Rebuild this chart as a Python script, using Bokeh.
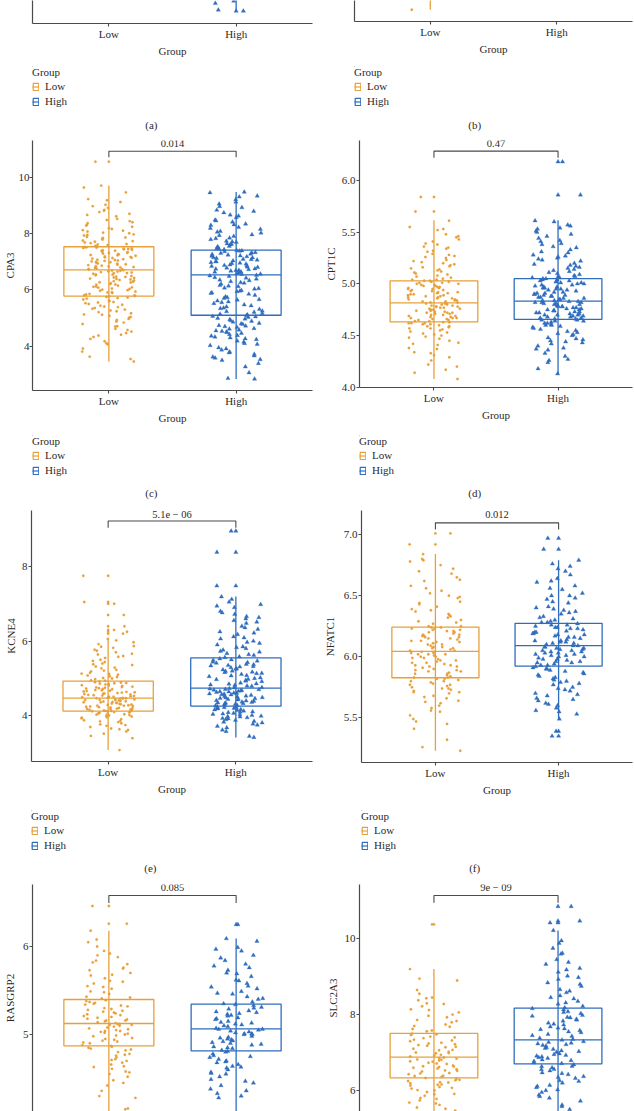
from bokeh.plotting import figure
from bokeh.models import FactorRange, Range1d, FixedTicker, Legend, LegendItem, ColumnDataSource, PrintfTickFormatter
from bokeh.transform import jitter, dodge
from bokeh.layouts import column, row
from bokeh.embed import file_html
from bokeh.resources import INLINE
from bokeh.core.properties import value

GROUPS = ["Low", "High"]
COLORS = ["#E8A03A", "#2F6DBE"]
MARKERS = ["circle", "triangle"]
MSIZE = [2.4, 4.3]
FONT = "Liberation Serif"
TXT = "#2a2a2a"
AXC = "#4a4a4a"

# ---------------- data ----------------
# (a) partial panel: only its lower edge is visible (boxes lie above the visible part)
a_low = [2.62, 2.80, 3.10]
a_high = [2.17, 2.195, 2.34, 2.39, 2.55]
a_q1 = None; a_med = None; a_q3 = None; a_wlo = [2.60, 2.18]; a_whi = [4.20, 4.00]

# (b) partial panel
b_low = [2.18, 2.52, 2.75]
b_high = [2.66, 2.90]
b_q1 = None; b_med = None; b_q3 = None; b_wlo = [2.18, 2.60]; b_whi = [4.10, 4.20]

# (c) CPA3
cpa3_low = [3.46, 3.63, 3.81, 4.07, 4.11, 4.33, 4.38, 4.41, 4.47, 4.62, 4.70, 4.71, 4.88, 4.93, 4.97, 5.04,
            5.12, 5.13, 5.21, 5.27, 5.30, 5.36, 5.41, 5.44, 5.50, 5.53, 5.57, 5.60, 5.66, 5.69, 5.73, 5.77,
            5.79, 5.81, 5.84, 5.89, 5.91, 5.92, 5.97, 6.01, 6.03, 6.08, 6.09, 6.12, 6.18, 6.19, 6.24, 6.26,
            6.27, 6.31, 6.35, 6.37, 6.40, 6.44, 6.46, 6.47, 6.52, 6.54, 6.57, 6.60, 6.63, 6.66, 6.68, 6.70,
            6.73, 6.74, 6.78, 6.81, 6.83, 6.86, 6.88, 6.91, 6.94, 6.96, 6.99, 7.01, 7.04, 7.06, 7.09, 7.11,
            7.14, 7.17, 7.19, 7.23, 7.24, 7.27, 7.31, 7.32, 7.36, 7.39, 7.41, 7.44, 7.46, 7.47, 7.49, 7.51,
            7.52, 7.56, 7.59, 7.63, 7.68, 7.71, 7.73, 7.79, 7.84, 7.88, 7.93, 7.97, 8.03, 8.07, 8.12, 8.19,
            8.24, 8.31, 8.37, 8.44, 8.52, 8.61, 8.70, 8.76, 8.84, 8.91, 9.02, 9.18, 9.22, 9.46, 9.63, 9.70, 10.55]
cpa3_low_more = [3.55, 3.92, 4.18, 4.26, 4.52, 4.58, 4.79, 4.84, 5.01, 5.08, 5.17, 5.24, 5.33, 5.39, 5.47, 5.55,
                 5.62, 5.71, 5.75, 5.80, 5.86, 5.94, 5.99, 6.05, 6.11, 6.15, 6.21, 6.29, 6.33, 6.39, 6.42, 6.49,
                 6.55, 6.59, 6.62, 6.65, 6.69, 6.72, 6.76, 6.80, 6.84, 6.89, 6.93, 6.98, 7.03, 7.07, 7.13, 7.16,
                 7.21, 7.26, 7.29, 7.34, 7.38, 7.42, 7.45, 7.50, 7.54, 7.61, 7.66, 7.75, 7.81, 7.86, 7.95, 8.01,
                 8.10, 8.16, 8.28, 8.40, 8.48, 8.66, 8.81, 8.97, 9.12]
cpa3_high = [2.84, 2.86, 3.27, 3.50, 3.53, 3.58, 3.66, 3.72, 3.80, 3.87, 3.91, 4.03, 4.10, 4.19, 4.24, 4.27,
             4.33, 4.38, 4.42, 4.46, 4.51, 4.55, 4.58, 4.63, 4.67, 4.70, 4.74, 4.78, 4.82, 4.86, 4.91, 4.95,
             4.99, 5.03, 5.06, 5.09, 5.12, 5.16, 5.21, 5.25, 5.31, 5.36, 5.40, 5.47, 5.52, 5.58, 5.61, 5.66,
             5.70, 5.76, 5.81, 5.85, 5.90, 5.94, 5.98, 6.03, 6.07, 6.12, 6.16, 6.21, 6.26, 6.30, 6.35, 6.39,
             6.44, 6.48, 6.52, 6.55, 6.58, 6.61, 6.64, 6.67, 6.70, 6.72, 6.75, 6.78, 6.81, 6.84, 6.86, 6.89,
             6.92, 6.95, 6.97, 7.00, 7.03, 7.06, 7.09, 7.12, 7.15, 7.18, 7.21, 7.24, 7.27, 7.30, 7.33, 7.36,
             7.38, 7.40, 7.43, 7.47, 7.51, 7.55, 7.60, 7.64, 7.69, 7.73, 7.79, 7.84, 7.90, 7.96, 8.02, 8.08,
             8.15, 8.22, 8.29, 8.34, 8.41, 8.48, 8.57, 8.66, 8.74, 8.83, 8.92, 9.05, 9.21, 9.33, 9.45, 9.47]
cpa3_high_more = [3.06, 3.39, 3.62, 3.77, 3.95, 4.07, 4.15, 4.30, 4.36, 4.49, 4.53, 4.61, 4.72, 4.80, 4.89, 4.97,
                  5.05, 5.14, 5.23, 5.34, 5.44, 5.55, 5.64, 5.73, 5.88, 5.96, 6.05, 6.14, 6.24, 6.33, 6.42, 6.50,
                  6.56, 6.63, 6.69, 6.74, 6.80, 6.87, 6.94, 7.01, 7.08, 7.14, 7.20, 7.26, 7.32, 7.39, 7.45, 7.53,
                  7.62, 7.71, 7.82, 7.93, 8.05, 8.19, 8.31, 8.45, 8.62, 8.79, 8.96, 9.12, 9.30]
cpa3_q1 = [5.78, 5.10]; cpa3_med = [6.71, 6.53]; cpa3_q3 = [7.53, 7.41]; cpa3_wlo = [3.46, 2.84]; cpa3_whi = [9.70, 9.47]

# (d) CPT1C
cpt1c_low = [4.08, 4.14, 4.17, 4.22, 4.26, 4.29, 4.31, 4.34, 4.37, 4.38, 4.41, 4.43, 4.45, 4.47, 4.49, 4.50,
             4.52, 4.53, 4.54, 4.56, 4.57, 4.59, 4.59, 4.60, 4.61, 4.62, 4.62, 4.63, 4.64, 4.64, 4.65, 4.66,
             4.67, 4.67, 4.68, 4.69, 4.70, 4.70, 4.71, 4.72, 4.72, 4.73, 4.74, 4.75, 4.75, 4.76, 4.77, 4.78,
             4.78, 4.79, 4.80, 4.80, 4.81, 4.81, 4.82, 4.83, 4.83, 4.84, 4.85, 4.86, 4.87, 4.87, 4.88, 4.89,
             4.90, 4.91, 4.92, 4.92, 4.93, 4.94, 4.95, 4.96, 4.96, 4.97, 4.98, 4.99, 5.00, 5.01, 5.01, 5.02,
             5.03, 5.03, 5.04, 5.05, 5.07, 5.08, 5.10, 5.11, 5.13, 5.15, 5.16, 5.18, 5.20, 5.22, 5.23, 5.25,
             5.27, 5.29, 5.31, 5.34, 5.36, 5.38, 5.41, 5.45, 5.48, 5.52, 5.55, 5.61, 5.70, 5.84]
cpt1c_low_more = [4.20, 4.33, 4.42, 4.48, 4.55, 4.58, 4.61, 4.63, 4.65, 4.68, 4.71, 4.74, 4.76, 4.79, 4.82, 4.84,
                  4.86, 4.89, 4.91, 4.94, 4.97, 4.99, 5.02, 5.06, 5.09, 5.12, 5.17, 5.21, 5.26, 5.32, 5.39, 5.46,
                  5.53, 4.69, 4.77, 4.88, 4.95, 5.00, 4.73, 4.66, 4.51, 4.57, 4.62, 4.67, 4.72, 4.78, 4.81, 4.85,
                  4.90, 4.93, 4.98, 5.04, 5.14, 5.19, 5.28, 5.35, 5.43]
cpt1c_high = [4.13, 4.18, 4.26, 4.27, 4.30, 4.33, 4.36, 4.38, 4.40, 4.42, 4.43, 4.45, 4.47, 4.48, 4.50, 4.52,
              4.53, 4.55, 4.56, 4.57, 4.59, 4.60, 4.61, 4.62, 4.63, 4.64, 4.64, 4.65, 4.65, 4.66, 4.66, 4.67,
              4.68, 4.68, 4.69, 4.70, 4.70, 4.71, 4.72, 4.72, 4.73, 4.74, 4.74, 4.75, 4.76, 4.76, 4.77, 4.78,
              4.78, 4.79, 4.80, 4.80, 4.81, 4.82, 4.82, 4.83, 4.83, 4.84, 4.85, 4.85, 4.86, 4.87, 4.88, 4.89,
              4.89, 4.90, 4.91, 4.92, 4.93, 4.94, 4.94, 4.95, 4.96, 4.97, 4.98, 4.99, 5.00, 5.00, 5.01, 5.02,
              5.03, 5.03, 5.04, 5.05, 5.05, 5.06, 5.07, 5.08, 5.10, 5.11, 5.13, 5.15, 5.17, 5.18, 5.20, 5.22,
              5.24, 5.26, 5.28, 5.30, 5.33, 5.35, 5.38, 5.41, 5.44, 5.46, 5.50, 5.53, 5.56, 5.57, 5.60, 5.61,
              5.86, 6.18]
cpt1c_high_more = [4.24, 4.37, 4.44, 4.51, 4.58, 4.62, 4.67, 4.69, 4.71, 4.73, 4.75, 4.77, 4.79, 4.81, 4.84, 4.86,
                   4.88, 4.90, 4.92, 4.95, 4.97, 4.99, 5.02, 5.04, 5.07, 5.09, 5.12, 5.16, 5.19, 5.23, 5.27, 5.31,
                   5.36, 5.42, 5.48, 5.54, 4.46, 4.54, 4.60, 4.70, 4.74, 4.78, 4.82, 4.87, 4.91, 4.96, 5.01, 5.06,
                   5.14, 5.25, 5.39, 5.51]
cpt1c_q1 = [4.633, 4.656]; cpt1c_med = [4.817, 4.833]; cpt1c_q3 = [5.029, 5.051]; cpt1c_wlo = [4.08, 4.13]; cpt1c_whi = [5.614, 5.614]

# (e) KCNE4
kcne4_low = [3.08, 3.40, 3.52, 3.58, 3.62, 3.66, 3.70, 3.73, 3.77, 3.80, 3.83, 3.86, 3.88, 3.91, 3.93, 3.96,
             3.98, 4.00, 4.02, 4.04, 4.06, 4.08, 4.10, 4.11, 4.12, 4.12, 4.13, 4.14, 4.15, 4.16, 4.18, 4.19,
             4.20, 4.22, 4.23, 4.24, 4.26, 4.27, 4.28, 4.30, 4.31, 4.33, 4.34, 4.36, 4.37, 4.38, 4.40, 4.41,
             4.42, 4.44, 4.45, 4.46, 4.47, 4.47, 4.48, 4.50, 4.51, 4.53, 4.54, 4.56, 4.57, 4.59, 4.61, 4.62,
             4.64, 4.66, 4.67, 4.69, 4.71, 4.72, 4.74, 4.76, 4.78, 4.80, 4.82, 4.84, 4.86, 4.88, 4.90, 4.92,
             4.95, 4.98, 5.01, 5.04, 5.08, 5.10, 5.12, 5.15, 5.19, 5.23, 5.27, 5.32, 5.36, 5.40, 5.44, 5.50,
             5.55, 5.60, 5.64, 5.70, 5.77, 5.82, 5.87, 5.92, 6.02, 6.06, 6.20, 6.25, 6.30, 6.40, 6.70, 7.00,
             7.05, 7.75]
kcne4_low_more = [3.46, 3.64, 3.75, 3.85, 3.95, 4.01, 4.05, 4.09, 4.13, 4.17, 4.21, 4.25, 4.29, 4.32, 4.35, 4.39,
                  4.43, 4.46, 4.49, 4.52, 4.55, 4.58, 4.60, 4.63, 4.68, 4.73, 4.77, 4.81, 4.85, 4.89, 4.94, 5.00,
                  5.06, 5.13, 5.21, 5.29, 5.38, 5.47, 5.58, 5.66, 5.74, 5.85, 5.97, 4.03, 4.18, 4.27, 4.36, 4.42,
                  4.51, 4.65, 4.75, 4.87]
kcne4_high = [3.42, 3.45, 3.62, 3.68, 3.72, 3.78, 3.81, 3.85, 3.88, 3.90, 3.93, 3.95, 3.97, 3.99, 4.01, 4.03,
              4.05, 4.07, 4.09, 4.11, 4.13, 4.15, 4.17, 4.19, 4.21, 4.23, 4.25, 4.27, 4.29, 4.31, 4.33, 4.35,
              4.37, 4.39, 4.41, 4.43, 4.45, 4.47, 4.49, 4.51, 4.53, 4.55, 4.57, 4.59, 4.61, 4.63, 4.65, 4.67,
              4.69, 4.70, 4.72, 4.73, 4.76, 4.79, 4.82, 4.85, 4.88, 4.92, 4.95, 4.98, 5.02, 5.05, 5.08, 5.11,
              5.14, 5.17, 5.20, 5.23, 5.26, 5.29, 5.32, 5.35, 5.38, 5.41, 5.44, 5.47, 5.50, 5.53, 5.58, 5.62,
              5.67, 5.71, 5.76, 5.80, 5.85, 5.90, 5.94, 6.00, 6.06, 6.12, 6.18, 6.25, 6.32, 6.40, 6.48, 6.55,
              6.60, 6.66, 6.72, 6.80, 6.90, 6.98, 7.05, 7.12, 7.19, 7.48, 8.38, 8.95]
kcne4_high_more = [3.58, 3.75, 3.83, 3.92, 3.98, 4.04, 4.10, 4.16, 4.22, 4.28, 4.32, 4.36, 4.40, 4.44, 4.48, 4.52,
                   4.56, 4.60, 4.64, 4.68, 4.71, 4.75, 4.80, 4.86, 4.93, 5.00, 5.07, 5.13, 5.19, 5.25, 5.31, 5.37,
                   5.43, 5.49, 5.56, 5.64, 5.73, 5.83, 5.97, 6.09, 6.22, 6.36, 6.51, 6.63, 6.76, 6.94, 4.20, 4.34,
                   4.46, 4.58, 4.66, 4.83, 4.97, 5.16, 5.34]
kcne4_q1 = [4.125, 4.26]; kcne4_med = [4.47, 4.74]; kcne4_q3 = [4.93, 5.55]; kcne4_wlo = [3.08, 3.42]; kcne4_whi = [6.06, 7.195]

# (f) NFATC1
nfatc1_low = [5.23, 5.26, 5.41, 5.47, 5.49, 5.55, 5.56, 5.60, 5.62, 5.64, 5.66, 5.68, 5.70, 5.71, 5.72, 5.73,
              5.74, 5.75, 5.76, 5.77, 5.78, 5.79, 5.80, 5.81, 5.82, 5.82, 5.83, 5.84, 5.85, 5.86, 5.87, 5.88,
              5.89, 5.90, 5.91, 5.92, 5.93, 5.94, 5.95, 5.96, 5.97, 5.98, 5.99, 6.00, 6.01, 6.02, 6.02, 6.03,
              6.04, 6.04, 6.05, 6.06, 6.07, 6.08, 6.09, 6.10, 6.11, 6.12, 6.13, 6.14, 6.15, 6.16, 6.16, 6.17,
              6.18, 6.19, 6.20, 6.21, 6.21, 6.22, 6.23, 6.24, 6.24, 6.25, 6.27, 6.28, 6.30, 6.32, 6.33, 6.35,
              6.37, 6.39, 6.41, 6.43, 6.45, 6.48, 6.50, 6.52, 6.54, 6.58, 6.62, 6.65, 6.68, 6.72, 6.75, 6.78,
              6.80, 6.84, 6.92, 7.01]
nfatc1_low_more = [5.32, 5.45, 5.52, 5.58, 5.63, 5.67, 5.71, 5.74, 5.77, 5.80, 5.83, 5.86, 5.89, 5.92, 5.95, 5.97,
                   6.00, 6.02, 6.05, 6.07, 6.10, 6.12, 6.15, 6.17, 6.20, 6.22, 6.25, 6.29, 6.34, 6.38, 6.44, 6.49,
                   6.56, 6.63, 6.70, 6.79, 5.88, 5.93, 5.99, 6.03, 6.08, 6.13, 6.18, 6.23]
nfatc1_high = [5.35, 5.39, 5.49, 5.53, 5.56, 5.58, 5.61, 5.62, 5.64, 5.66, 5.68, 5.70, 5.72, 5.74, 5.75, 5.77,
               5.79, 5.80, 5.82, 5.83, 5.85, 5.86, 5.88, 5.89, 5.90, 5.91, 5.92, 5.93, 5.94, 5.95, 5.96, 5.97,
               5.98, 5.99, 6.00, 6.01, 6.02, 6.03, 6.03, 6.04, 6.05, 6.06, 6.06, 6.07, 6.08, 6.08, 6.09, 6.10,
               6.11, 6.12, 6.13, 6.14, 6.15, 6.16, 6.17, 6.18, 6.19, 6.20, 6.21, 6.22, 6.23, 6.24, 6.25, 6.26,
               6.27, 6.28, 6.29, 6.31, 6.33, 6.35, 6.37, 6.39, 6.41, 6.44, 6.47, 6.50, 6.52, 6.55, 6.58, 6.61,
               6.64, 6.67, 6.72, 6.76, 6.79, 6.88, 6.97]
nfatc1_high_more = [5.55, 5.60, 5.65, 5.69, 5.73, 5.78, 5.81, 5.84, 5.87, 5.90, 5.93, 5.95, 5.98, 6.00, 6.02, 6.04,
                    6.07, 6.09, 6.11, 6.13, 6.16, 6.18, 6.20, 6.23, 6.26, 6.28, 6.32, 6.36, 6.40, 6.45, 6.50, 6.56,
                    6.62, 6.70, 6.74, 5.96, 6.01, 6.05, 6.12, 6.19, 6.24, 6.30, 6.38, 6.48]
nfatc1_q1 = [5.828, 5.923]; nfatc1_med = [6.044, 6.09]; nfatc1_q3 = [6.243, 6.273]; nfatc1_wlo = [5.23, 5.49]; nfatc1_whi = [6.84, 6.79]

# (g) RASGRP2 (lower part cut off)
rasgrp2_low = [3.95, 4.02, 4.08, 4.15, 4.16, 4.28, 4.30, 4.36, 4.42, 4.48, 4.52, 4.55, 4.58, 4.61, 4.63, 4.66,
               4.68, 4.70, 4.72, 4.74, 4.76, 4.78, 4.80, 4.82, 4.84, 4.85, 4.86, 4.88, 4.90, 4.92, 4.94, 4.96,
               4.98, 5.00, 5.01, 5.03, 5.04, 5.05, 5.06, 5.08, 5.09, 5.10, 5.11, 5.12, 5.12, 5.13, 5.14, 5.16,
               5.17, 5.19, 5.20, 5.22, 5.23, 5.25, 5.27, 5.28, 5.30, 5.32, 5.34, 5.35, 5.37, 5.39, 5.41, 5.43,
               5.46, 5.49, 5.52, 5.55, 5.58, 5.61, 5.64, 5.67, 5.70, 5.73, 5.76, 5.80, 5.84, 5.88, 5.92, 5.95,
               6.05, 6.08, 6.18, 6.26, 6.46]
rasgrp2_low_more = [4.45, 4.57, 4.64, 4.71, 4.77, 4.83, 4.87, 4.91, 4.95, 4.99, 5.02, 5.07, 5.11, 5.15, 5.18, 5.21,
                    5.24, 5.29, 5.33, 5.38, 5.42, 5.48, 5.54, 5.60, 5.68, 5.75, 5.82, 5.90, 6.00, 4.93, 5.04, 5.16,
                    5.26, 5.36]
rasgrp2_high = [3.90, 4.00, 4.10, 4.28, 4.30, 4.33, 4.38, 4.42, 4.45, 4.49, 4.52, 4.55, 4.57, 4.60, 4.62, 4.64,
                4.66, 4.68, 4.70, 4.72, 4.74, 4.76, 4.78, 4.80, 4.82, 4.84, 4.86, 4.88, 4.90, 4.92, 4.94, 4.95,
                4.97, 4.98, 5.00, 5.01, 5.02, 5.04, 5.05, 5.06, 5.07, 5.09, 5.11, 5.13, 5.15, 5.17, 5.19, 5.21,
                5.23, 5.25, 5.27, 5.29, 5.31, 5.33, 5.34, 5.37, 5.40, 5.43, 5.46, 5.49, 5.52, 5.55, 5.58, 5.62,
                5.66, 5.70, 5.73, 5.76, 5.80, 5.84, 5.90, 5.95, 5.99, 6.06, 6.09, 6.25]
rasgrp2_high_more = [4.36, 4.47, 4.56, 4.63, 4.69, 4.75, 4.81, 4.85, 4.89, 4.93, 4.96, 5.00, 5.03, 5.06, 5.10, 5.14,
                     5.18, 5.22, 5.26, 5.30, 5.35, 5.41, 5.47, 5.54, 5.61, 5.69, 5.78, 5.87, 5.97, 4.91, 5.01, 5.12,
                     5.24]
rasgrp2_q1 = [4.871, 4.814]; rasgrp2_med = [5.125, 5.064]; rasgrp2_q3 = [5.398, 5.345]; rasgrp2_wlo = [3.95, 3.90]; rasgrp2_whi = [6.18, 6.09]

# (h) SLC2A3 (lower part cut off)
slc2a3_low = [5.00, 5.20, 5.35, 5.47, 5.55, 5.62, 5.68, 5.74, 5.80, 5.86, 5.91, 5.96, 6.01, 6.05, 6.09, 6.13,
              6.16, 6.19, 6.22, 6.25, 6.28, 6.31, 6.36, 6.39, 6.43, 6.46, 6.50, 6.53, 6.56, 6.60, 6.63, 6.66,
              6.70, 6.73, 6.76, 6.79, 6.82, 6.85, 6.87, 6.90, 6.94, 6.98, 7.02, 7.06, 7.10, 7.14, 7.18, 7.22,
              7.26, 7.30, 7.34, 7.38, 7.42, 7.46, 7.50, 7.56, 7.62, 7.68, 7.74, 7.80, 7.86, 7.93, 8.00, 8.06,
              8.14, 8.22, 8.30, 8.38, 8.45, 8.55, 8.65, 8.90, 8.95, 9.20, 10.38]
slc2a3_low_more = [5.52, 5.66, 5.78, 5.90, 6.00, 6.07, 6.15, 6.21, 6.27, 6.33, 6.38, 6.45, 6.52, 6.58, 6.64, 6.71,
                   6.77, 6.84, 6.92, 6.99, 7.07, 7.15, 7.24, 7.32, 7.40, 7.48, 7.58, 7.70, 7.83, 7.97, 8.12, 8.28,
                   8.43, 6.62, 6.81, 7.00, 7.20]
slc2a3_high = [5.10, 5.30, 5.50, 5.58, 5.72, 5.80, 5.88, 5.95, 6.02, 6.08, 6.14, 6.20, 6.26, 6.32, 6.37, 6.42,
               6.47, 6.52, 6.56, 6.60, 6.64, 6.68, 6.73, 6.77, 6.81, 6.85, 6.89, 6.93, 6.97, 7.01, 7.05, 7.09,
               7.13, 7.17, 7.21, 7.25, 7.29, 7.33, 7.38, 7.43, 7.48, 7.53, 7.58, 7.63, 7.68, 7.73, 7.78, 7.83,
               7.88, 7.93, 7.98, 8.03, 8.08, 8.13, 8.16, 8.22, 8.28, 8.35, 8.42, 8.50, 8.58, 8.66, 8.75, 8.84,
               8.93, 9.02, 9.12, 9.22, 9.33, 9.45, 9.60, 9.75, 9.95, 10.22, 10.42, 10.47, 10.85]
slc2a3_high_more = [5.62, 5.84, 6.00, 6.11, 6.24, 6.35, 6.45, 6.55, 6.63, 6.71, 6.79, 6.87, 6.95, 7.03, 7.11, 7.19,
                    7.27, 7.35, 7.45, 7.55, 7.65, 7.75, 7.86, 7.96, 8.06, 8.18, 8.31, 8.45, 8.62, 8.80, 8.98, 9.18,
                    9.38, 9.62, 9.88, 6.91, 7.23, 7.61, 7.92]
slc2a3_q1 = [6.334, 6.703]; slc2a3_med = [6.879, 7.336]; slc2a3_q3 = [7.503, 8.171]; slc2a3_wlo = [5.00, 5.10]; slc2a3_whi = [9.20, 10.22]

PVALUES = ["", "", "0.014", "0.47", "5.1e \u2212 06", "0.012", "0.085", "9e \u2212 09"]
GENES = [None, None, "CPA3", "CPT1C", "KCNE4", "NFATC1", "RASGRP2", "SLC2A3"]
CAPTIONS = ["(a)", "(b)", "(c)", "(d)", "(e)", "(f)", None, None]

# ---------------- panel layout specs (pixels) ----------------
# h: plot figure height, sh: legend strip height, smt: legend offset in strip, cy/cx: caption centre in strip
specs = [
    dict(data=(a_low, a_high), st=(a_q1, a_med, a_q3, a_wlo, a_whi), yr=(1.90, 2.40), ticks=[],
         h=59, ml=32, mr=5, mt=0, mb=36, ylso=0, yls=1, fmt=None, sh=76, smt=7, cx=121, cy=58),
    dict(data=(b_low, b_high), st=(b_q1, b_med, b_q3, b_wlo, b_whi), yr=(1.90, 2.40), ticks=[],
         h=57, ml=37, mr=2, mt=0, mb=36, ylso=0, yls=1, fmt=None, sh=78, smt=9, cx=121, cy=58),
    dict(data=(cpa3_low + cpa3_low_more, cpa3_high + cpa3_high_more),
         st=(cpa3_q1, cpa3_med, cpa3_q3, cpa3_wlo, cpa3_whi), yr=(2.43, 11.30),
         ticks=[4, 6, 8, 10], br=(10.71, 10.92, 11.18),
         h=291, ml=32, mr=5, mt=5, mb=36, ylso=0, yls=0, fmt=None, sh=79, smt=9, cx=121, cy=57),
    dict(data=(cpt1c_low + cpt1c_low_more, cpt1c_high + cpt1c_high_more),
         st=(cpt1c_q1, cpt1c_med, cpt1c_q3, cpt1c_wlo, cpt1c_whi), yr=(3.998, 6.386),
         ticks=[4.0, 4.5, 5.0, 5.5, 6.0], br=(6.22, 6.283, 6.354),
         h=288, ml=42, mr=2, mt=5, mb=36, ylso=2, yls=1, fmt="%.1f", sh=82, smt=12, cx=116, cy=57),
    dict(data=(kcne4_low + kcne4_low_more, kcne4_high + kcne4_high_more),
         st=(kcne4_q1, kcne4_med, kcne4_q3, kcne4_wlo, kcne4_whi), yr=(2.774, 9.50),
         ticks=[4, 6, 8], br=(9.04, 9.217, 9.40),
         h=292, ml=31, mr=5, mt=5, mb=36, ylso=2, yls=1, fmt=None, sh=81, smt=13, cx=121, cy=57),
    dict(data=(nfatc1_low + nfatc1_low_more, nfatc1_high + nfatc1_high_more),
         st=(nfatc1_q1, nfatc1_med, nfatc1_q3, nfatc1_wlo, nfatc1_whi), yr=(5.134, 7.197),
         ticks=[5.5, 6.0, 6.5, 7.0], br=(7.041, 7.096, 7.164),
         h=293, ml=44, mr=2, mt=5, mb=36, ylso=5, yls=1, fmt="%.1f", sh=80, smt=12, cx=114, cy=57),
    dict(data=(rasgrp2_low + rasgrp2_low_more, rasgrp2_high + rasgrp2_high_more),
         st=(rasgrp2_q1, rasgrp2_med, rasgrp2_q3, rasgrp2_wlo, rasgrp2_whi), yr=(4.125, 6.705),
         ticks=[5, 6], br=(6.496, 6.58, 6.674),
         h=233, ml=32, mr=5, mt=6, mb=0, ylso=4, yls=1, fmt=None, sh=0),
    dict(data=(slc2a3_low + slc2a3_low_more, slc2a3_high + slc2a3_high_more),
         st=(slc2a3_q1, slc2a3_med, slc2a3_q3, slc2a3_wlo, slc2a3_whi), yr=(5.446, 11.43),
         ticks=[6, 8, 10], br=(10.95, 11.14, 11.36),
         h=233, ml=42, mr=2, mt=6, mb=0, ylso=3, yls=1, fmt=None, sh=0),
]

BOX_W = 0.707
W = 317


def style_axes(p):
    for ax in p.axis:
        ax.axis_line_color = AXC
        ax.axis_line_width = 1.2
        ax.major_tick_line_color = AXC
        ax.major_tick_line_width = 1.1
        ax.major_tick_in = 0
        ax.major_tick_out = 3
        ax.minor_tick_line_color = None
        ax.major_label_text_font = FONT
        ax.major_label_text_font_size = "11px"
        ax.major_label_text_color = TXT
        ax.axis_label_text_font = FONT
        ax.axis_label_text_font_size = "11px"
        ax.axis_label_text_font_style = "normal"
        ax.axis_label_text_color = TXT


def make_plot(i, sp):
    has_x = sp["sh"] > 0
    p = figure(width=W, height=sp["h"],
               x_range=FactorRange(factors=GROUPS, range_padding=0.1, range_padding_units="absolute"),
               y_range=Range1d(*sp["yr"]),
               x_axis_location="below" if has_x else None,
               output_backend="svg", toolbar_location=None,
               min_border_left=sp["ml"], min_border_right=sp["mr"],
               min_border_top=sp["mt"], min_border_bottom=sp["mb"])
    p.xgrid.grid_line_color = None
    p.ygrid.grid_line_color = None
    p.outline_line_color = None
    style_axes(p)
    p.yaxis.ticker = FixedTicker(ticks=sp["ticks"])
    if sp["fmt"]:
        p.yaxis.formatter = PrintfTickFormatter(format=sp["fmt"])
    p.yaxis.major_label_standoff = sp["yls"]
    if GENES[i]:
        p.yaxis.axis_label = GENES[i]
        p.yaxis.axis_label_standoff = sp["ylso"]
        p.yaxis.axis_label_text_line_height = 1.0
    if has_x:
        p.xaxis.axis_label = "Group"
        p.xaxis.major_label_standoff = 1
        p.xaxis.axis_label_standoff = 2

    q1, med, q3, wlo, whi = sp["st"]
    for gi, g in enumerate(GROUPS):
        c = COLORS[gi]
        wsrc = ColumnDataSource(dict(g=[g], wlo=[wlo[gi]], whi=[whi[gi]]))
        p.segment(x0="g", x1="g", y0="wlo", y1="whi", source=wsrc, line_color=c, line_width=1.3)
        if q1 is not None:
            stat = ColumnDataSource(dict(g=[g], q1=[q1[gi]], med=[med[gi]], q3=[q3[gi]]))
            p.vbar(x="g", width=BOX_W, bottom="q1", top="q3", source=stat,
                   fill_color=None, line_color=c, line_width=1.3)
            p.segment(x0=dodge("g", -BOX_W / 2, range=p.x_range), x1=dodge("g", BOX_W / 2, range=p.x_range),
                      y0="med", y1="med", source=stat, line_color=c, line_width=1.3)
        vals = sp["data"][gi]
        pts = ColumnDataSource(dict(g=[g] * len(vals), v=vals))
        p.scatter(x=jitter("g", width=0.42, range=p.x_range), y="v", source=pts,
                  marker=MARKERS[gi], size=MSIZE[gi], fill_color=c, line_color=c, line_width=0.3)
        outl = [v for v in vals if v < wlo[gi] or v > whi[gi]]
        if outl:
            osrc = ColumnDataSource(dict(g=[g] * len(outl), v=outl))
            p.scatter(x="g", y="v", source=osrc, marker=MARKERS[gi], size=MSIZE[gi],
                      fill_color=c, line_color=c, line_width=0.3)

    if "br" in sp:
        tk, by, ly = sp["br"]
        p.line(x=["Low", "Low", "High", "High"], y=[tk, by, by, tk], line_color=AXC, line_width=1.1)
        p.text(x=dodge("g", 0.5, range=p.x_range), y="y", text="t",
               source=ColumnDataSource(dict(g=["Low"], y=[ly], t=[PVALUES[i]])),
               text_align="center", text_baseline="middle", text_font=value(FONT),
               text_font_size="10.5px", text_color=TXT)
    return p


def make_strip(i, sp):
    fw = W - sp["ml"]
    fh = sp["sh"] - sp["smt"]
    s = figure(width=W, height=sp["sh"], x_range=Range1d(0, fw), y_range=Range1d(fh, 0),
               x_axis_location=None, y_axis_location=None,
               output_backend="svg", toolbar_location=None,
               min_border_left=sp["ml"], min_border_right=0, min_border_top=sp["smt"], min_border_bottom=0)
    s.xgrid.grid_line_color = None
    s.ygrid.grid_line_color = None
    s.outline_line_color = None
    items = []
    for gi, g in enumerate(GROUPS):
        c = COLORS[gi]
        # legend keys: box outline with median line (kept outside the visible area)
        key_src = ColumnDataSource(dict(x=[-50.0], b=[-60.0], t=[-40.0]))
        rb = s.vbar(x="x", width=7, bottom="b", top="t", source=key_src,
                    fill_color=None, line_color=c, line_width=1.2)
        rm = s.segment(x0=[-60.0], x1=[-40.0], y0=[-50.0], y1=[-50.0], line_color=c, line_width=1.2)
        items.append(LegendItem(label=g, renderers=[rb, rm]))
    lg = Legend(items=items, title="Group", location="top_left", orientation="vertical",
                margin=0, padding=0, spacing=3,
                glyph_width=7, glyph_height=9, label_height=12, label_standoff=6, title_standoff=2,
                border_line_color=None, background_fill_alpha=0,
                label_text_font=FONT, label_text_font_size="11px", label_text_color=TXT,
                title_text_font=FONT, title_text_font_size="11px", title_text_font_style="normal",
                title_text_color=TXT)
    s.add_layout(lg)
    s.text(x=[sp["cx"]], y=[sp["cy"]], text=[CAPTIONS[i]], text_align="center", text_baseline="middle",
           text_font=value(FONT), text_font_size="11px", text_color=TXT)
    return s


cells = []
for i, sp in enumerate(specs):
    p = make_plot(i, sp)
    if sp["sh"] > 0:
        cells.append(column(p, make_strip(i, sp), spacing=0))
    else:
        cells.append(p)

layout = column(row(cells[0], cells[1], spacing=0), row(cells[2], cells[3], spacing=0),
                row(cells[4], cells[5], spacing=0), row(cells[6], cells[7], spacing=0),
                spacing=0)

open("out.html", "w").write(file_html(layout, INLINE))
